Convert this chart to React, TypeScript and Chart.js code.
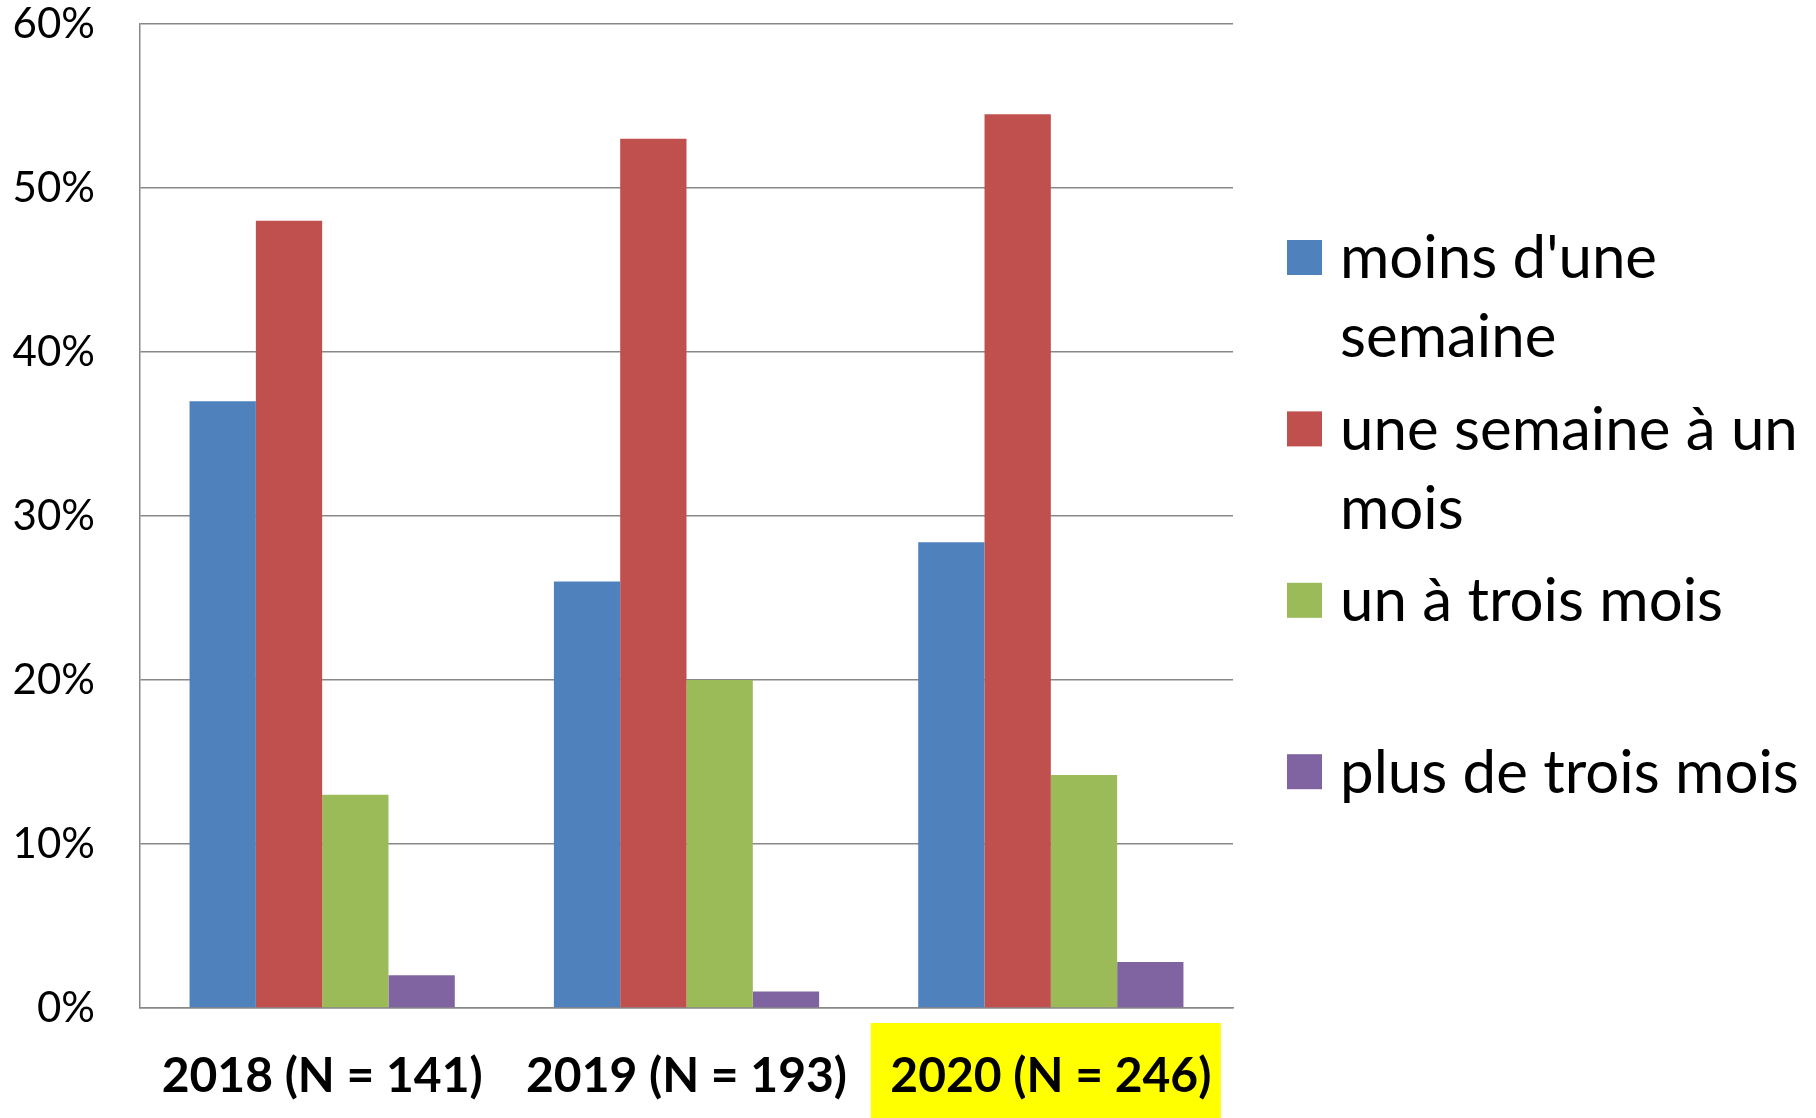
import React, { useEffect, useRef } from "react";
import { Chart, registerables } from "chart.js";

Chart.register(...registerables);

const categories = ["2018 (N = 141)", "2019 (N = 193)", "2020 (N = 246)"];
const seriesLabels = ["moins d'une semaine", "une semaine à un mois", "un à trois mois", "plus de trois mois"];
const legendLines = [["moins d'une", "semaine"], ["une semaine à un", "mois"], ["un à trois mois"], ["plus de trois mois"]];
const moinsUneSemaine = [37, 26, 28.4];
const semaineAMois = [48, 53, 54.5];
const unATroisMois = [13, 20, 14.2];
const plusTroisMois = [2, 1, 2.8];
const colors = ["#4F81BD", "#C0504D", "#9BBB59", "#8064A2"];
const yTicks = [0, 10, 20, 30, 40, 50, 60];
const highlightIndex = 2;

const FONT = "Lato, Carlito, Calibri, sans-serif";

const legendPlugin = {
  id: "sideLegend",
  afterDraw(chart: any) {
    const ctx = chart.ctx;
    ctx.save();
    ctx.font = `60px ${FONT}`;
    ctx.textBaseline = "middle";
    ctx.textAlign = "left";
    chart.data.datasets.forEach((ds: any, i: number) => {
      const cy = 257 + i * 171.4;
      ctx.fillStyle = ds.backgroundColor;
      ctx.fillRect(1287, cy - 17, 35, 35);
      ctx.fillStyle = "#000";
      legendLines[i].forEach((line, j) => ctx.fillText(line, 1340, cy + 2 + j * 79));
    });
    ctx.restore();
  },
};

const highlightPlugin = {
  id: "highlightLabel",
  beforeDraw(chart: any) {
    const x = chart.scales.x;
    const ctx = chart.ctx;
    const cx = x.getPixelForValue(highlightIndex) - 5;
    ctx.save();
    ctx.font = `bold 48px ${FONT}`;
    const w = ctx.measureText(categories[highlightIndex]).width + 29;
    ctx.fillStyle = "#FFFF00";
    ctx.fillRect(cx - w / 2, chart.chartArea.bottom + 15, w, chart.height - chart.chartArea.bottom - 15);
    ctx.restore();
  },
};

export default function App() {
  const ref = useRef<HTMLCanvasElement>(null);
  useEffect(() => {
    document.body.style.margin = "0";
    const series = [moinsUneSemaine, semaineAMois, unATroisMois, plusTroisMois];
    const chart = new Chart(ref.current!, {
      type: "bar",
      data: {
        labels: categories,
        datasets: series.map((d, i) => ({
          label: seriesLabels[i],
          data: d,
          backgroundColor: colors[i],
          borderWidth: 0,
          categoryPercentage: 0.728,
          barPercentage: 1,
        })),
      },
      options: {
        responsive: false,
        animation: false,
        devicePixelRatio: 1,
        layout: { padding: { left: 0, right: 583, top: 24, bottom: 0 } },
        plugins: { legend: { display: false }, tooltip: { enabled: false } },
        scales: {
          x: {
            grid: { display: false, drawTicks: false },
            border: { display: true, color: "#888888", width: 1.5 },
            ticks: { font: { family: FONT, size: 48, weight: "bold" }, color: "#000", padding: 40 },
            afterFit(scale: any) {
              scale.height = 110;
              scale.paddingLeft = 0;
              scale.paddingRight = 0;
            },
          },
          y: {
            min: 0,
            max: 60,
            afterBuildTicks(scale: any) {
              scale.ticks = yTicks.map((v) => ({ value: v }));
            },
            grid: { color: "#888888", lineWidth: 1.5, drawTicks: false },
            border: { display: true, color: "#888888", width: 1.5 },
            ticks: {
              font: { family: FONT, size: 42 },
              color: "#000",
              padding: 45,
              callback: (v: any) => v + "%",
            },
            afterFit(scale: any) {
              scale.width = 140;
              scale.paddingTop = 0;
              scale.paddingBottom = 0;
            },
          },
        },
      },
      plugins: [legendPlugin, highlightPlugin],
    } as any);
    return () => chart.destroy();
  }, []);
  return (
    <div style={{ position: "fixed", left: 0, top: 0, width: 1816, height: 1118, background: "#fff" }}>
      <canvas ref={ref} width={1816} height={1118} />
    </div>
  );
}
